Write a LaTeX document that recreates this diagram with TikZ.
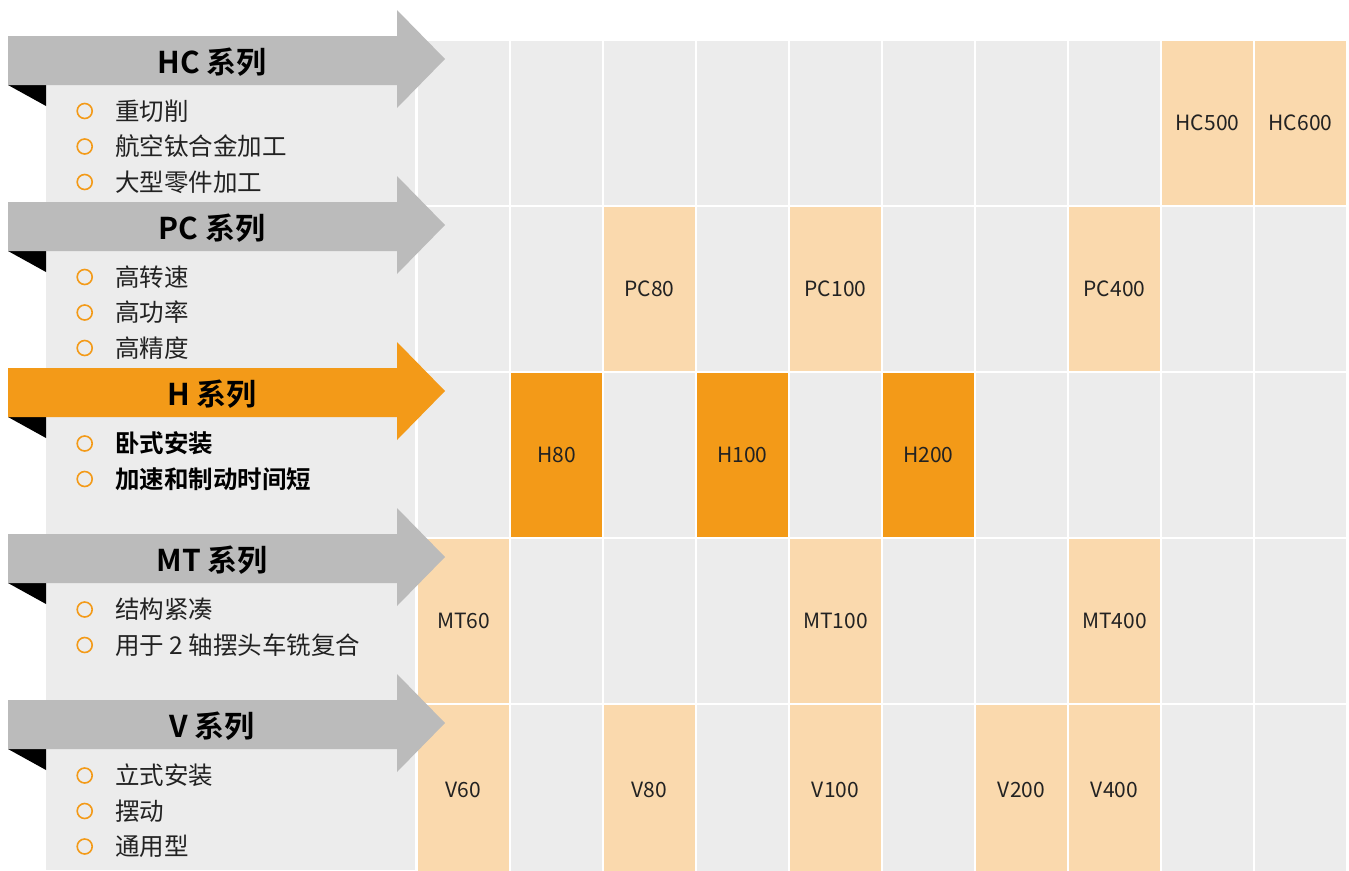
\documentclass[tikz,border=0pt]{standalone}
\usepackage{fontspec}
\setmainfont{Noto Sans CJK SC}[BoldFont={Noto Sans CJK SC Bold}]

\definecolor{grisfl}{HTML}{BBBBBB}
\definecolor{naranja}{HTML}{F39A18}
\definecolor{naranjacl}{HTML}{FAD9AD}
\definecolor{fondo}{HTML}{ECECEC}
\definecolor{texto}{HTML}{222222}

\tikzset{
  celda/.style={fill=fondo, minimum width=91pt, minimum height=164pt, inner sep=0pt,
    text=texto, font=\fontsize{21}{21}\selectfont},
  titulo/.style={inner sep=0pt, text=black, font=\fontsize{30}{30}\selectfont\bfseries},
  item/.style={anchor=west, inner sep=0pt, text=texto, font=\fontsize{24.5}{24.5}\selectfont,
    label={[circle, draw=naranja, line width=1.6pt, minimum size=15pt, inner sep=0pt,
      label distance=22pt]left:{}}}
}

\begin{document}
\begin{tikzpicture}[x=1pt,y=-1pt]
\useasboundingbox (0,0) rectangle (1349,870);

% Fondo
\fill[fondo] (46,40) rectangle (415,870);
\foreach \i in {0,...,9}
  \foreach \j/\y/\h in {0/123/164, 1/289/164, 2/455/164, 3/621/164, 4/790/170}
    \node[celda, minimum height=\h pt] (c\i\j) at ({463.5+93*\i},\y) {};

% Modelos
\node[celda, fill=naranjacl] (hc500) at (c80) {HC500};
\node[celda, fill=naranjacl] (hc600) at (c90) {HC600};
\node[celda, fill=naranjacl] (pc80) at (c21) {PC80};
\node[celda, fill=naranjacl] (pc100) at (c41) {PC100};
\node[celda, fill=naranjacl] (pc400) at (c71) {PC400};
\node[celda, fill=naranja] (h80) at (c12) {H80};
\node[celda, fill=naranja] (h100) at (c32) {H100};
\node[celda, fill=naranja] (h200) at (c52) {H200};
\node[celda, fill=naranjacl] (mt60) at (c03) {MT60};
\node[celda, fill=naranjacl] (mt100) at (c43) {MT100};
\node[celda, fill=naranjacl] (mt400) at (c73) {MT400};
\node[celda, fill=naranjacl, minimum height=170pt] (v60) at (c04) {V60};
\node[celda, fill=naranjacl, minimum height=170pt] (v80) at (c24) {V80};
\node[celda, fill=naranjacl, minimum height=170pt] (v100) at (c44) {V100};
\node[celda, fill=naranjacl, minimum height=170pt] (v200) at (c64) {V200};
\node[celda, fill=naranjacl, minimum height=170pt] (v400) at (c74) {V400};

% Flechas
\foreach \t/\col/\nom in {40/grisfl/HC, 206/grisfl/PC, 372/naranja/H, 538/grisfl/MT, 704/grisfl/V}{
  \fill[black] (8,\t+45) -- (46,\t+45) -- (46,\t+66) -- cycle;
  \fill[\col] (8,\t-4) -- (397,\t-4) -- (397,\t-30) -- (445,\t+19)
    -- (397,\t+68) -- (397,\t+45) -- (8,\t+45) -- cycle;
  \node[titulo] (t\nom) at (212,\t+22) {\nom\ 系列};
}

% HC
\node[item] (hc1) at (115,111) {重切削};
\node[item] (hc2) at (115,146.5) {航空钛合金加工};
\node[item] (hc3) at (115,182) {大型零件加工};
% PC
\node[item] (pc1) at (115,277) {高转速};
\node[item] (pc2) at (115,312.5) {高功率};
\node[item] (pc3) at (115,348) {高精度};
% H
\node[item, font=\fontsize{24.5}{24.5}\selectfont\bfseries, text=black] (h1) at (115,443.5) {卧式安装};
\node[item, font=\fontsize{24.5}{24.5}\selectfont\bfseries, text=black] (h2) at (115,479) {加速和制动时间短};
% MT
\node[item] (mt1) at (115,609.5) {结构紧凑};
\node[item] (mt2) at (115,645) {用于 2 轴摆头车铣复合};
% V
\node[item] (v1) at (115,775.5) {立式安装};
\node[item] (v2) at (115,811) {摆动};
\node[item] (v3) at (115,846.5) {通用型};
\end{tikzpicture}
\end{document}
